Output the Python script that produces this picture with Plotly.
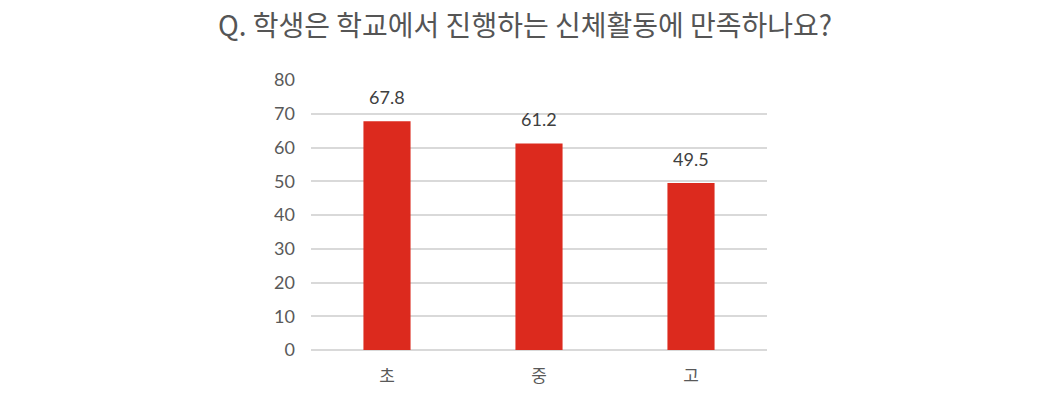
import plotly.graph_objects as go

categories = ["초", "중", "고"]
values = [67.8, 61.2, 49.5]
tick_vals = [0, 10, 20, 30, 40, 50, 60, 70, 80]
title_text = "Q. 학생은 학교에서 진행하는 신체활동에 만족하나요?"

fig = go.Figure(go.Bar(
    x=categories, y=values,
    marker=dict(color="#DC2A1E", line=dict(width=0)),
    width=0.31,
))

for c, v in zip(categories, values):
    fig.add_annotation(x=c, y=v, text=f"{v:.1f}", showarrow=False,
                       yanchor="bottom", yshift=11,
                       font=dict(size=18, color="#404040", family="Lato, Noto Sans CJK KR"))

fig.update_layout(
    width=1050, height=399,
    margin=dict(l=311, r=283, t=80, b=49),
    paper_bgcolor="white", plot_bgcolor="white",
    title=dict(text=title_text, x=0.5, xanchor="center", y=1 - 26/399, yanchor="middle",
               font=dict(size=28, color="#555555", family="Noto Sans CJK KR")),
    showlegend=False,
    xaxis=dict(showgrid=False, showline=False, ticks="", zeroline=False,
               tickfont=dict(size=17, color="#595959", family="Noto Sans CJK KR"),
               ticklabelstandoff=14),
    yaxis=dict(range=[0, 80], tickvals=tick_vals, showgrid=True, gridcolor="#D9D9D9", gridwidth=2,
               zeroline=True, zerolinecolor="#D9D9D9", zerolinewidth=2, showline=False,
               tickfont=dict(size=18, color="#595959", family="Lato, Noto Sans CJK KR"),
               ticklabelstandoff=15),
)

fig.write_html("out.html")
